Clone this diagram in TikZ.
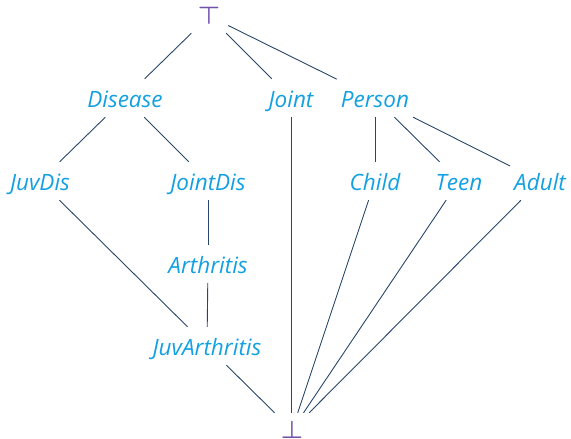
\documentclass[tikz,border=0pt]{standalone}
\usepackage{fontspec}
\setmainfont{Open Sans}
\definecolor{txtc}{RGB}{18,160,226}
\definecolor{linec}{RGB}{40,70,105}
\definecolor{symc}{RGB}{115,80,170}
\begin{document}
\begin{tikzpicture}[x=1pt,y=-1pt,
  lbl/.style={text=txtc, font=\fontsize{22.5}{26}\selectfont\itshape, text height=19pt, text depth=1pt, inner xsep=4pt, inner ysep=9pt, anchor=center},
  sym/.style={text=symc, font=\fontsize{23}{27}\selectfont\boldmath, minimum width=38pt, minimum height=34pt, inner sep=0pt, anchor=center},
  edge/.style={draw=linec, line width=0.9pt}]
\useasboundingbox (0,0) rectangle (571,439);
\node[sym] (top) at (209,16) {$\top$};
\node[sym] (bot) at (292,430) {$\bot$};
\node[lbl] (disease) at (125,98) {Disease};
\node[lbl] (joint) at (291,98) {Joint};
\node[lbl] (person) at (375,98) {Person};
\node[lbl] (juvdis) at (40,181) {JuvDis};
\node[lbl] (jointdis) at (208,181) {JointDis};
\node[lbl] (child) at (375,181) {Child};
\node[lbl] (teen) at (459,181) {Teen};
\node[lbl] (adult) at (540,181) {Adult};
\node[lbl] (arth) at (208,264) {Arthritis};
\node[lbl] (juvarth) at (207,346) {JuvArthritis};
\draw[edge] (top) -- (disease);
\draw[edge] (top) -- (joint);
\draw[edge] (top) -- (person);
\draw[edge] (disease) -- (juvdis);
\draw[edge] (disease) -- (jointdis);
\draw[edge] (joint.south) -- (joint.south |- bot.north);
\draw[edge] (person) -- (child);
\draw[edge] (person) -- (teen);
\draw[edge] (person) -- (adult);
\draw[edge] (juvdis) -- (juvarth);
\draw[edge] (jointdis) -- (arth);
\draw[edge] (arth) -- (juvarth);
\draw[edge] (juvarth) -- (bot);
\draw[edge] (child) -- (bot);
\draw[edge] (teen) -- (bot);
\draw[edge] (adult) -- (bot);
\end{tikzpicture}
\end{document}
